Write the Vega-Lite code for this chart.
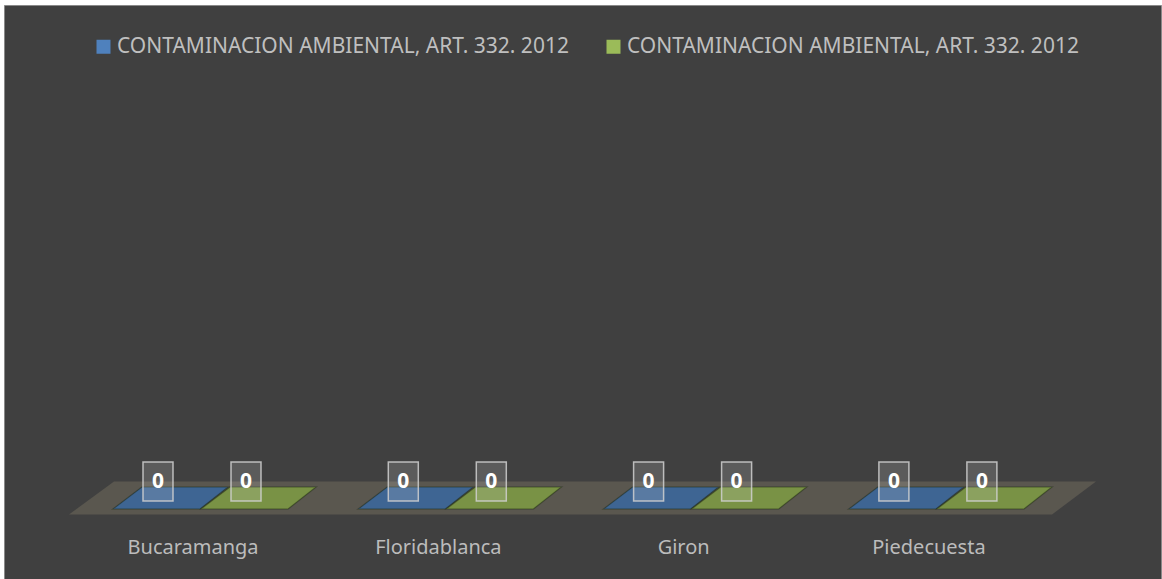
{
  "$schema": "https://vega.github.io/schema/vega-lite/v6.json",
  "autosize": "none",
  "padding": {"left": 4, "top": 5, "right": 1, "bottom": 0},
  "width": 1157,
  "height": 574,
  "background": "#ffffff",
  "config": {
    "view": {"fill": "#404040", "stroke": "#898989", "strokeWidth": 1},
    "font": "Noto Sans"
  },
  "data": {
    "values": [
      {"municipio": "Bucaramanga", "serie": "Serie 1", "valor": 0},
      {"municipio": "Bucaramanga", "serie": "Serie 2", "valor": 0},
      {"municipio": "Floridablanca", "serie": "Serie 1", "valor": 0},
      {"municipio": "Floridablanca", "serie": "Serie 2", "valor": 0},
      {"municipio": "Giron", "serie": "Serie 1", "valor": 0},
      {"municipio": "Giron", "serie": "Serie 2", "valor": 0},
      {"municipio": "Piedecuesta", "serie": "Serie 1", "valor": 0},
      {"municipio": "Piedecuesta", "serie": "Serie 2", "valor": 0}
    ]
  },
  "layer": [
    {
      "data": {"values": [{"plano": "base", "valor": 0}]},
      "mark": {
        "type": "point",
        "filled": true,
        "shape": "M -0.937 -0.033 L 1.027 -0.033 L 0.939 0.033 L -1.027 0.033 Z",
        "size": 1000000,
        "color": "#5a574f",
        "opacity": 1
      },
      "encoding": {
        "y": {"field": "valor", "type": "quantitative", "scale": {"domain": [0, 1], "range": [493, 0]}, "axis": null}
      }
    },
    {
      "mark": {
        "type": "point",
        "filled": true,
        "shape": "M -0.58 -0.22 L 1.14 -0.22 L 0.58 0.22 L -1.16 0.22 Z",
        "size": 10000,
        "color": "#000000",
        "opacity": 1
      },
      "encoding": {
        "x": {
          "field": "municipio",
          "type": "nominal",
          "sort": ["Bucaramanga", "Floridablanca", "Giron", "Piedecuesta"],
          "scale": {"range": [88.4, 1069.6], "paddingInner": 0, "paddingOuter": 0},
          "axis": {
            "title": null,
            "domain": false,
            "ticks": false,
            "tickSize": 0,
            "labelPadding": 0,
            "offset": -26,
            "labelBaseline": "alphabetic",
            "labelOffset": -22,
            "labelAngle": 0,
            "labelFont": "Noto Sans",
            "labelFontSize": 20,
            "labelColor": "#bcbcbc",
            "grid": false
          }
        },
        "xOffset": {"field": "serie", "type": "nominal", "scale": {"range": [78.6, 166.6], "paddingInner": 0, "paddingOuter": 0}},
        "y": {"field": "valor", "type": "quantitative"}
      }
    },
    {
      "mark": {
        "type": "point",
        "filled": true,
        "shape": "M -0.58 -0.22 L 1.14 -0.22 L 0.58 0.22 L -1.16 0.22 Z",
        "size": 10000,
        "fillOpacity": 0.78,
        "stroke": "#1e2a10",
        "strokeOpacity": 0.35,
        "strokeWidth": 1.5
      },
      "encoding": {
        "x": {"field": "municipio", "type": "nominal", "sort": ["Bucaramanga", "Floridablanca", "Giron", "Piedecuesta"]},
        "xOffset": {"field": "serie", "type": "nominal"},
        "y": {"field": "valor", "type": "quantitative"},
        "color": {
          "field": "serie",
          "type": "nominal",
          "scale": {"range": ["#4f81bd", "#9bbb59"]},
          "legend": {
            "orient": "none",
            "legendX": 89,
            "legendY": 31,
            "direction": "horizontal",
            "title": null,
            "symbolType": "square",
            "symbolSize": 196,
            "symbolOpacity": 1,
            "symbolStrokeWidth": 0,
            "labelFont": "Noto Sans",
            "labelFontSize": 21,
            "labelColor": "#bfbfbf",
            "labelOffset": 3,
            "columnPadding": 34,
            "padding": 0,
            "labelLimit": 600,
            "labelExpr": "'CONTAMINACION AMBIENTAL, ART. 332. 2012'"
          }
        }
      }
    },
    {
      "mark": {
        "type": "point",
        "filled": true,
        "shape": "M -0.56 -0.72 L 0.04 -0.72 L 0.04 0.06 L -0.56 0.06 Z",
        "size": 10000,
        "fill": "#ffffff",
        "fillOpacity": 0.14,
        "stroke": "#d0d0d0",
        "strokeOpacity": 0.85,
        "strokeWidth": 1.5
      },
      "encoding": {
        "x": {"field": "municipio", "type": "nominal", "sort": ["Bucaramanga", "Floridablanca", "Giron", "Piedecuesta"]},
        "xOffset": {"field": "serie", "type": "nominal"},
        "y": {"field": "valor", "type": "quantitative"}
      }
    },
    {
      "mark": {
        "type": "text",
        "dx": -13,
        "dy": -16,
        "align": "center",
        "baseline": "middle",
        "font": "Noto Sans",
        "fontSize": 21,
        "fontWeight": "bold",
        "color": "#ffffff"
      },
      "encoding": {
        "x": {"field": "municipio", "type": "nominal", "sort": ["Bucaramanga", "Floridablanca", "Giron", "Piedecuesta"]},
        "xOffset": {"field": "serie", "type": "nominal"},
        "y": {"field": "valor", "type": "quantitative"},
        "text": {"field": "valor", "type": "quantitative"}
      }
    }
  ]
}
